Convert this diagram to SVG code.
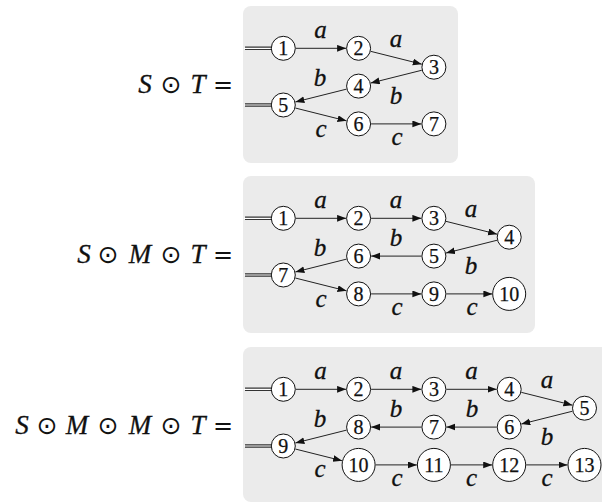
<svg xmlns="http://www.w3.org/2000/svg" width="602" height="504" viewBox="0 0 602 504">
<defs>
<marker id="arr" markerUnits="userSpaceOnUse" markerWidth="10" markerHeight="8" refX="9" refY="3.4" orient="auto">
<path d="M0,0 L9,3.4 L0,6.8 Z" fill="#111"/>
</marker>
<style>
.panel{fill:#ebebeb}
.node circle{fill:#fff;stroke:#111;stroke-width:1}
.node text{font-family:"Liberation Serif", serif;font-size:20px;text-anchor:middle;fill:#111;stroke:#111;stroke-width:0.25}
.edge{stroke:#222;stroke-width:1;fill:none;marker-end:url(#arr)}
.init1{stroke:#333;stroke-width:3.4;fill:none}
.init2{stroke:#fff;stroke-width:1.2;fill:none}
.lbl{font-family:"Liberation Serif", serif;font-style:italic;font-size:25px;text-anchor:middle;fill:#111;stroke:#111;stroke-width:0.3}
.f{font-family:"Liberation Serif", serif;font-size:27px;fill:#111;stroke:#111;stroke-width:0.3}
.f .it{font-style:italic}
.f .op{font-family:"DejaVu Sans", sans-serif;font-size:25px;stroke-width:0}
.f .eq{font-family:"DejaVu Serif", serif;font-size:24px;stroke-width:0}
</style>
</defs>

<rect class="panel" x="243" y="6" width="215" height="157" rx="8"/>
<rect class="panel" x="243" y="176" width="292" height="157" rx="8"/>
<rect class="panel" x="243" y="347" width="380" height="155" rx="8"/>

<text class="f" y="93"><tspan class="it" x="145" text-anchor="middle">S</tspan><tspan class="op" x="171" text-anchor="middle">⊙</tspan><tspan class="it" x="198" text-anchor="middle">T</tspan><tspan class="eq" x="223" text-anchor="middle">=</tspan></text>
<text class="f" y="263"><tspan class="it" x="84" text-anchor="middle">S</tspan><tspan class="op" x="108" text-anchor="middle">⊙</tspan><tspan class="it" x="140" text-anchor="middle">M</tspan><tspan class="op" x="171" text-anchor="middle">⊙</tspan><tspan class="it" x="198" text-anchor="middle">T</tspan><tspan class="eq" x="223" text-anchor="middle">=</tspan></text>
<text class="f" y="434"><tspan class="it" x="22" text-anchor="middle">S</tspan><tspan class="op" x="47" text-anchor="middle">⊙</tspan><tspan class="it" x="77" text-anchor="middle">M</tspan><tspan class="op" x="108" text-anchor="middle">⊙</tspan><tspan class="it" x="140" text-anchor="middle">M</tspan><tspan class="op" x="171" text-anchor="middle">⊙</tspan><tspan class="it" x="198" text-anchor="middle">T</tspan><tspan class="eq" x="223" text-anchor="middle">=</tspan></text>

<g id="connectors">
<path class="init1" d="M245,48.3 H271 M245,105 H271 M245,218.3 H271 M245,275 H271 M245,389.3 H271 M245,446 H271"/>
<path class="init2" d="M244,48.3 H271 M244,105 H271 M244,218.3 H271 M244,275 H271 M244,389.3 H271 M244,446 H271"/>
<path class="edge" d="M295.8,48.3 L346.1,48.3"/>
<path class="edge" d="M370.7,51.34 L421.8,64.16"/>
<path class="edge" d="M421.8,70.24 L370.7,83.06"/>
<path class="edge" d="M346.5,89.14 L295.4,101.96"/>
<path class="edge" d="M295.4,108.04 L346.5,120.86"/>
<path class="edge" d="M371.1,123.9 L421.4,123.9"/>
<path class="edge" d="M295.8,218.3 L346.1,218.3"/>
<path class="edge" d="M371.1,218.3 L421.4,218.3"/>
<path class="edge" d="M446,221.34 L497.1,234.16"/>
<path class="edge" d="M497.1,240.24 L446,253.06"/>
<path class="edge" d="M421.4,256.1 L371.1,256.1"/>
<path class="edge" d="M346.5,259.14 L295.4,271.96"/>
<path class="edge" d="M295.4,278.04 L346.5,290.86"/>
<path class="edge" d="M371.1,293.9 L421.4,293.9"/>
<path class="edge" d="M446.4,293.9 L492.4,293.9"/>
<path class="edge" d="M295.8,389.3 L346.1,389.3"/>
<path class="edge" d="M371.1,389.3 L421.4,389.3"/>
<path class="edge" d="M446.4,389.3 L496.7,389.3"/>
<path class="edge" d="M521.3,392.34 L572.4,405.16"/>
<path class="edge" d="M572.4,411.24 L521.3,424.06"/>
<path class="edge" d="M496.7,427.1 L446.4,427.1"/>
<path class="edge" d="M421.4,427.1 L371.1,427.1"/>
<path class="edge" d="M346.5,430.14 L295.4,442.96"/>
<path class="edge" d="M295.4,449.04 L342.1,460.76"/>
<path class="edge" d="M375.6,464.9 L416.9,464.9"/>
<path class="edge" d="M450.9,464.9 L492.2,464.9"/>
<path class="edge" d="M526.2,464.9 L567.5,464.9"/>
<text class="lbl" x="320.5" y="38">a</text>
<text class="lbl" x="396" y="47">a</text>
<text class="lbl" x="396" y="104">b</text>
<text class="lbl" x="320" y="86">b</text>
<text class="lbl" x="321" y="137">c</text>
<text class="lbl" x="397" y="145">c</text>
<text class="lbl" x="320.5" y="208">a</text>
<text class="lbl" x="396" y="208">a</text>
<text class="lbl" x="471" y="217">a</text>
<text class="lbl" x="471" y="274">b</text>
<text class="lbl" x="396" y="246">b</text>
<text class="lbl" x="320" y="256">b</text>
<text class="lbl" x="321" y="307">c</text>
<text class="lbl" x="397" y="315">c</text>
<text class="lbl" x="472" y="315">c</text>
<text class="lbl" x="320.5" y="379">a</text>
<text class="lbl" x="396" y="379">a</text>
<text class="lbl" x="471.5" y="379">a</text>
<text class="lbl" x="547" y="388">a</text>
<text class="lbl" x="547" y="445">b</text>
<text class="lbl" x="472" y="417">b</text>
<text class="lbl" x="396" y="417">b</text>
<text class="lbl" x="320" y="427">b</text>
<text class="lbl" x="320" y="477">c</text>
<text class="lbl" x="397" y="486">c</text>
<text class="lbl" x="471.5" y="486">c</text>
<text class="lbl" x="547" y="486">c</text>
</g>

<g id="p1n1" class="node"><circle cx="283.3" cy="48.3" r="12"/><text x="283.3" y="55">1</text></g>
<g id="p1n2" class="node"><circle cx="358.6" cy="48.3" r="12"/><text x="358.6" y="55">2</text></g>
<g id="p1n3" class="node"><circle cx="433.9" cy="67.2" r="12"/><text x="433.9" y="73.9">3</text></g>
<g id="p1n4" class="node"><circle cx="358.6" cy="86.1" r="12"/><text x="358.6" y="92.8">4</text></g>
<g id="p1n5" class="node"><circle cx="283.3" cy="105" r="12"/><text x="283.3" y="111.7">5</text></g>
<g id="p1n6" class="node"><circle cx="358.6" cy="123.9" r="12"/><text x="358.6" y="130.6">6</text></g>
<g id="p1n7" class="node"><circle cx="433.9" cy="123.9" r="12"/><text x="433.9" y="130.6">7</text></g>

<g id="p2n1" class="node"><circle cx="283.3" cy="218.3" r="12"/><text x="283.3" y="225">1</text></g>
<g id="p2n2" class="node"><circle cx="358.6" cy="218.3" r="12"/><text x="358.6" y="225">2</text></g>
<g id="p2n3" class="node"><circle cx="433.9" cy="218.3" r="12"/><text x="433.9" y="225">3</text></g>
<g id="p2n4" class="node"><circle cx="509.2" cy="237.2" r="12"/><text x="509.2" y="243.9">4</text></g>
<g id="p2n5" class="node"><circle cx="433.9" cy="256.1" r="12"/><text x="433.9" y="262.8">5</text></g>
<g id="p2n6" class="node"><circle cx="358.6" cy="256.1" r="12"/><text x="358.6" y="262.8">6</text></g>
<g id="p2n7" class="node"><circle cx="283.3" cy="275" r="12"/><text x="283.3" y="281.7">7</text></g>
<g id="p2n8" class="node"><circle cx="358.6" cy="293.9" r="12"/><text x="358.6" y="300.6">8</text></g>
<g id="p2n9" class="node"><circle cx="433.9" cy="293.9" r="12"/><text x="433.9" y="300.6">9</text></g>
<g id="p2n10" class="node"><circle cx="509.2" cy="293.9" r="16.5"/><text x="509.2" y="300.6">10</text></g>

<g id="p3n1" class="node"><circle cx="283.3" cy="389.3" r="12"/><text x="283.3" y="396">1</text></g>
<g id="p3n2" class="node"><circle cx="358.6" cy="389.3" r="12"/><text x="358.6" y="396">2</text></g>
<g id="p3n3" class="node"><circle cx="433.9" cy="389.3" r="12"/><text x="433.9" y="396">3</text></g>
<g id="p3n4" class="node"><circle cx="509.2" cy="389.3" r="12"/><text x="509.2" y="396">4</text></g>
<g id="p3n5" class="node"><circle cx="584.5" cy="408.2" r="12"/><text x="584.5" y="414.9">5</text></g>
<g id="p3n6" class="node"><circle cx="509.2" cy="427.1" r="12"/><text x="509.2" y="433.8">6</text></g>
<g id="p3n7" class="node"><circle cx="433.9" cy="427.1" r="12"/><text x="433.9" y="433.8">7</text></g>
<g id="p3n8" class="node"><circle cx="358.6" cy="427.1" r="12"/><text x="358.6" y="433.8">8</text></g>
<g id="p3n9" class="node"><circle cx="283.3" cy="446" r="12"/><text x="283.3" y="452.7">9</text></g>
<g id="p3n10" class="node"><circle cx="358.6" cy="464.9" r="16.5"/><text x="358.6" y="471.6">10</text></g>
<g id="p3n11" class="node"><circle cx="433.9" cy="464.9" r="16.5"/><text x="433.9" y="471.6">11</text></g>
<g id="p3n12" class="node"><circle cx="509.2" cy="464.9" r="16.5"/><text x="509.2" y="471.6">12</text></g>
<g id="p3n13" class="node"><circle cx="584.5" cy="464.9" r="16.5"/><text x="584.5" y="471.6">13</text></g>
</svg>
